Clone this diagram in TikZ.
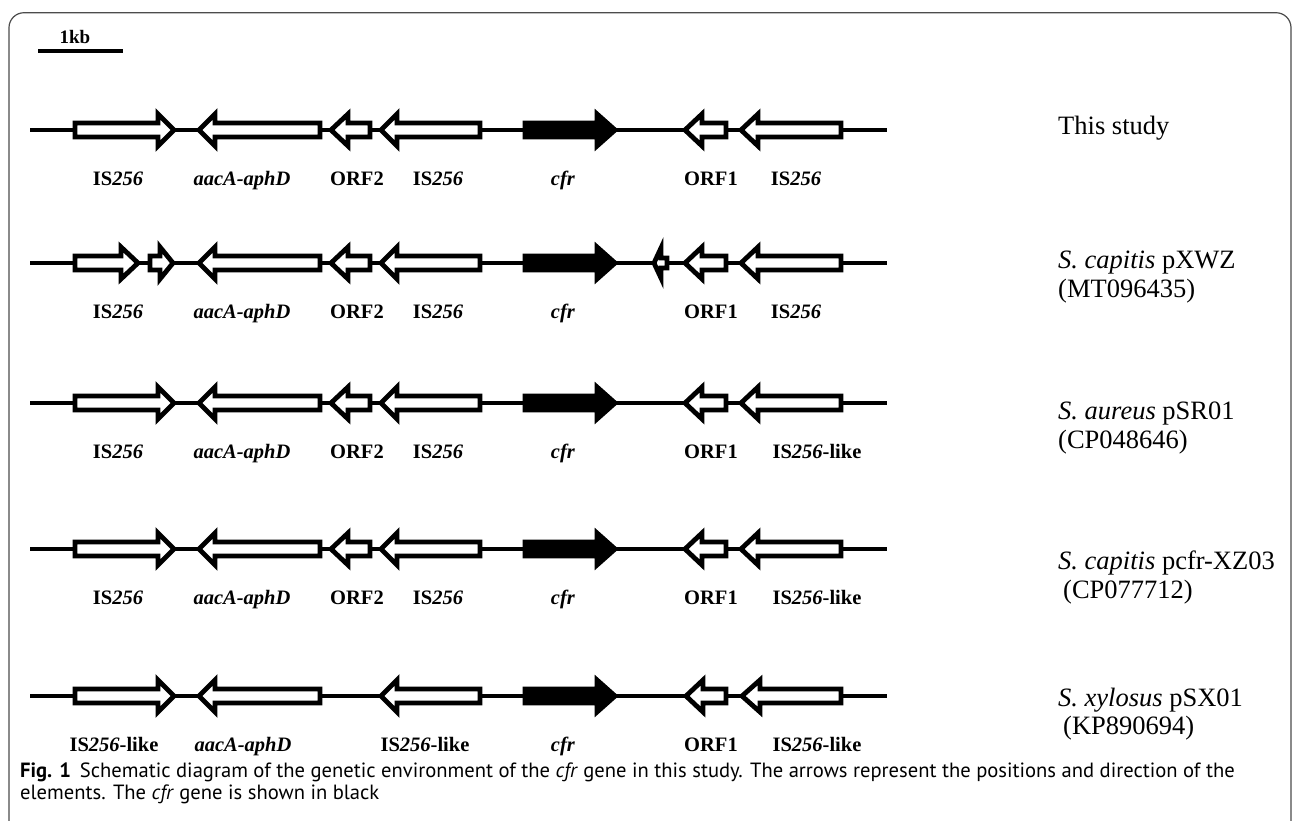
\documentclass[tikz,border=0pt]{standalone}
\usepackage{fontspec}
\setmainfont{Liberation Serif}
\newfontfamily\capfont{PT Sans}
\newcommand\geneshape[7]{% style, tail, base, tip, y, h, H
  \draw[#1] (#2,#5-#6) -- (#3,#5-#6) -- (#3,#5-#7) -- (#4,#5) -- (#3,#5+#7) -- (#3,#5+#6) -- (#2,#5+#6) -- cycle;}
\newcommand\gene[5]{\geneshape{#1}{#2}{#3}{#4}{#5}{7}{16}}
\begin{document}
\begin{tikzpicture}[x=1pt,y=-1pt,
  gene/.style={draw=black, fill=white, line width=4.8pt, line join=miter},
  cfrgene/.style={gene, fill=black},
  backbone/.style={draw=black, line width=4.8pt},
  lab/.style={anchor=base, inner sep=0pt, font=\fontsize{20.5}{24}\selectfont\bfseries},
  rlab/.style={anchor=base west, inner sep=0pt, font=\fontsize{26.5}{30}\selectfont},
  captext/.style={anchor=base west, inner sep=0pt, font=\capfont\fontsize{20.6}{24}\selectfont},
  framec/.style={draw=black!70, line width=1.2pt, rounded corners=15pt}]
\useasboundingbox (0,0) rectangle (1292,820);
\fill[white] (0,0) rectangle (1292,820);
\draw[framec] (9,840) -- (9,12.7) -- (1291,12.7) -- (1291,840);
% scale bar
\coordinate (sb1) at (38,51);
\coordinate (sb2) at (123,51);
\draw[line width=4pt] (sb1) -- (sb2);
\node[anchor=base, inner sep=0pt, font=\fontsize{19}{22}\selectfont\bfseries] (kb) at (75,43) {1kb};
% ---------- row 1 ----------
\def\ry{130}
\coordinate (r1s) at (30,\ry); \coordinate (r1e) at (887,\ry);
\draw[backbone] (r1s) -- (r1e);
\gene{gene}{75}{158}{174}{\ry}
\gene{gene}{320}{215}{199}{\ry}
\gene{gene}{370}{348}{331}{\ry}
\gene{gene}{480}{397}{381}{\ry}
\gene{cfrgene}{525}{597}{615}{\ry}
\gene{gene}{726}{702}{685}{\ry}
\gene{gene}{841}{758}{741}{\ry}
\node[lab] (a1) at (118,\ry+55) {IS\textit{256}};
\node[lab] (b1) at (242,\ry+55) {\textit{aacA-aphD}};
\node[lab] (c1) at (357,\ry+55) {ORF2};
\node[lab] (d1) at (438,\ry+55) {IS\textit{256}};
\node[lab] (e1) at (563,\ry+55) {\textit{cfr}};
\node[lab] (f1) at (711,\ry+55) {ORF1};
\node[lab] (g1) at (796,\ry+55) {IS\textit{256}};
\node[rlab] (t1) at (1058,134) {This study};
% ---------- row 2 ----------
\def\ry{263}
\coordinate (r2s) at (30,\ry); \coordinate (r2e) at (887,\ry);
\draw[backbone] (r2s) -- (r2e);
\gene{gene}{75}{121}{138}{\ry}
\gene{gene}{150}{160}{173}{\ry}
\gene{gene}{320}{215}{199}{\ry}
\gene{gene}{370}{348}{331}{\ry}
\gene{gene}{480}{397}{381}{\ry}
\gene{cfrgene}{525}{597}{615}{\ry}
\geneshape{gene}{667}{661}{654}{\ry}{5}{15}
\gene{gene}{726}{702}{685}{\ry}
\gene{gene}{841}{758}{741}{\ry}
\node[lab] (a2) at (118,\ry+55) {IS\textit{256}};
\node[lab] (b2) at (242,\ry+55) {\textit{aacA-aphD}};
\node[lab] (c2) at (357,\ry+55) {ORF2};
\node[lab] (d2) at (438,\ry+55) {IS\textit{256}};
\node[lab] (e2) at (563,\ry+55) {\textit{cfr}};
\node[lab] (f2) at (711,\ry+55) {ORF1};
\node[lab] (g2) at (796,\ry+55) {IS\textit{256}};
\node[rlab] (t2) at (1058,268) {\textit{S. capitis} pXWZ};
\node[rlab] (u2) at (1058,297) {(MT096435)};
% ---------- row 3 ----------
\def\ry{403}
\coordinate (r3s) at (30,\ry); \coordinate (r3e) at (887,\ry);
\draw[backbone] (r3s) -- (r3e);
\gene{gene}{75}{158}{174}{\ry}
\gene{gene}{320}{215}{199}{\ry}
\gene{gene}{370}{348}{331}{\ry}
\gene{gene}{480}{397}{381}{\ry}
\gene{cfrgene}{525}{597}{615}{\ry}
\gene{gene}{726}{702}{685}{\ry}
\gene{gene}{841}{758}{741}{\ry}
\node[lab] (a3) at (118,\ry+55) {IS\textit{256}};
\node[lab] (b3) at (242,\ry+55) {\textit{aacA-aphD}};
\node[lab] (c3) at (357,\ry+55) {ORF2};
\node[lab] (d3) at (438,\ry+55) {IS\textit{256}};
\node[lab] (e3) at (563,\ry+55) {\textit{cfr}};
\node[lab] (f3) at (711,\ry+55) {ORF1};
\node[lab] (g3) at (817,\ry+55) {IS\textit{256}-like};
\node[rlab] (t3) at (1058,419) {\textit{S. aureus} pSR01};
\node[rlab] (u3) at (1058,448) {(CP048646)};
% ---------- row 4 ----------
\def\ry{549}
\coordinate (r4s) at (30,\ry); \coordinate (r4e) at (887,\ry);
\draw[backbone] (r4s) -- (r4e);
\gene{gene}{75}{158}{174}{\ry}
\gene{gene}{320}{215}{199}{\ry}
\gene{gene}{370}{348}{331}{\ry}
\gene{gene}{480}{397}{381}{\ry}
\gene{cfrgene}{525}{597}{615}{\ry}
\gene{gene}{726}{702}{685}{\ry}
\gene{gene}{841}{758}{741}{\ry}
\node[lab] (a4) at (118,\ry+55) {IS\textit{256}};
\node[lab] (b4) at (242,\ry+55) {\textit{aacA-aphD}};
\node[lab] (c4) at (357,\ry+55) {ORF2};
\node[lab] (d4) at (438,\ry+55) {IS\textit{256}};
\node[lab] (e4) at (563,\ry+55) {\textit{cfr}};
\node[lab] (f4) at (711,\ry+55) {ORF1};
\node[lab] (g4) at (817,\ry+55) {IS\textit{256}-like};
\node[rlab] (t4) at (1058,569) {\textit{S. capitis} pcfr-XZ03};
\node[rlab] (u4) at (1063,598) {(CP077712)};
% ---------- row 5 ----------
\def\ry{696}
\coordinate (r5s) at (30,\ry); \coordinate (r5e) at (887,\ry);
\draw[backbone] (r5s) -- (r5e);
\gene{gene}{75}{158}{174}{\ry}
\gene{gene}{320}{215}{199}{\ry}
\gene{gene}{480}{397}{381}{\ry}
\gene{cfrgene}{525}{597}{615}{\ry}
\gene{gene}{726}{703}{686}{\ry}
\gene{gene}{841}{760}{742}{\ry}
\node[lab] (a5) at (114,\ry+55) {IS\textit{256}-like};
\node[lab] (b5) at (243,\ry+55) {\textit{aacA-aphD}};
\node[lab] (d5) at (425,\ry+55) {IS\textit{256}-like};
\node[lab] (e5) at (563,\ry+55) {\textit{cfr}};
\node[lab] (f5) at (711,\ry+55) {ORF1};
\node[lab] (g5) at (817,\ry+55) {IS\textit{256}-like};
\node[rlab] (t5) at (1058,706) {\textit{S. xylosus} pSX01};
\node[rlab] (u5) at (1063,734) {(KP890694)};
% ---------- caption ----------
\node[captext] (cap1) at (20,777) {\textbf{Fig. 1}\hspace{9pt}Schematic diagram of the genetic environment of the \textit{cfr} gene in this study. The arrows represent the positions and direction of the};
\node[captext] (cap2) at (20,799) {elements. The \textit{cfr} gene is shown in black};
\end{tikzpicture}
\end{document}
